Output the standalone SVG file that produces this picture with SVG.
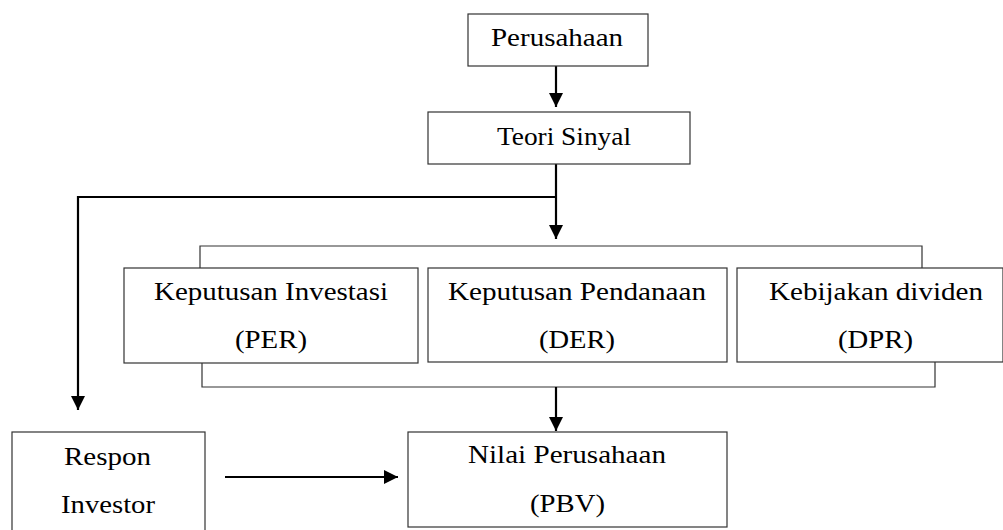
<svg xmlns="http://www.w3.org/2000/svg" width="1003" height="530" viewBox="0 0 1003 530">
<style>
.box{fill:#fff;stroke:#333;stroke-width:1.2}
.bracket{fill:none;stroke:#333;stroke-width:1.2}
.line{fill:none;stroke:#000;stroke-width:2.2}
.t{font-family:"Liberation Serif","Times New Roman",serif;font-size:25px;fill:#000}
</style>
<defs>
<marker id="ah" markerWidth="14" markerHeight="14" viewBox="0 0 14 14" refX="14" refY="7" orient="auto" markerUnits="userSpaceOnUse">
<path d="M0,0 L14,7 L0,14 Z" fill="#000"/>
</marker>
</defs>
<g id="connectors">
<line class="line" x1="556" y1="66" x2="556" y2="107" marker-end="url(#ah)"/>
<line class="line" x1="556" y1="164" x2="556" y2="239" marker-end="url(#ah)"/>
<polyline class="line" points="556,197 78,197 78,410" marker-end="url(#ah)"/>
<polyline class="bracket" points="200,268 200,246 922,246 922,268"/>
<polyline class="bracket" points="202,363 202,387 935,387 935,362"/>
<line class="line" x1="556" y1="387" x2="556" y2="431" marker-end="url(#ah)"/>
<line class="line" x1="225" y1="477" x2="398" y2="477" marker-end="url(#ah)"/>
</g>
<g id="perusahaan">
<rect class="box" x="468" y="14" width="180" height="52"/>
<text class="t" x="491" y="46" textLength="132" lengthAdjust="spacingAndGlyphs">Perusahaan</text>
</g>
<g id="teori-sinyal">
<rect class="box" x="428" y="112" width="262" height="52"/>
<text class="t" x="497" y="145" textLength="134" lengthAdjust="spacingAndGlyphs">Teori Sinyal</text>
</g>
<g id="keputusan-investasi">
<rect class="box" x="124" y="268" width="294" height="95"/>
<text class="t" x="154" y="300" textLength="234" lengthAdjust="spacingAndGlyphs">Keputusan Investasi</text>
<text class="t" x="235" y="348" textLength="72" lengthAdjust="spacingAndGlyphs">(PER)</text>
</g>
<g id="keputusan-pendanaan">
<rect class="box" x="428" y="268" width="299" height="94"/>
<text class="t" x="448" y="300" textLength="258" lengthAdjust="spacingAndGlyphs">Keputusan Pendanaan</text>
<text class="t" x="539" y="348" textLength="76" lengthAdjust="spacingAndGlyphs">(DER)</text>
</g>
<g id="kebijakan-dividen">
<rect class="box" x="737" y="268" width="266" height="94"/>
<text class="t" x="769" y="300" textLength="214" lengthAdjust="spacingAndGlyphs">Kebijakan dividen</text>
<text class="t" x="838" y="348" textLength="75" lengthAdjust="spacingAndGlyphs">(DPR)</text>
</g>
<g id="nilai-perusahaan">
<rect class="box" x="408" y="432" width="319" height="95"/>
<text class="t" x="468" y="463" textLength="198" lengthAdjust="spacingAndGlyphs">Nilai Perusahaan</text>
<text class="t" x="530" y="512" textLength="75" lengthAdjust="spacingAndGlyphs">(PBV)</text>
</g>
<g id="respon-investor">
<rect class="box" x="12" y="432" width="193" height="110"/>
<text class="t" x="64" y="465" textLength="87" lengthAdjust="spacingAndGlyphs">Respon</text>
<text class="t" x="61" y="513" textLength="94" lengthAdjust="spacingAndGlyphs">Investor</text>
</g>
</svg>
